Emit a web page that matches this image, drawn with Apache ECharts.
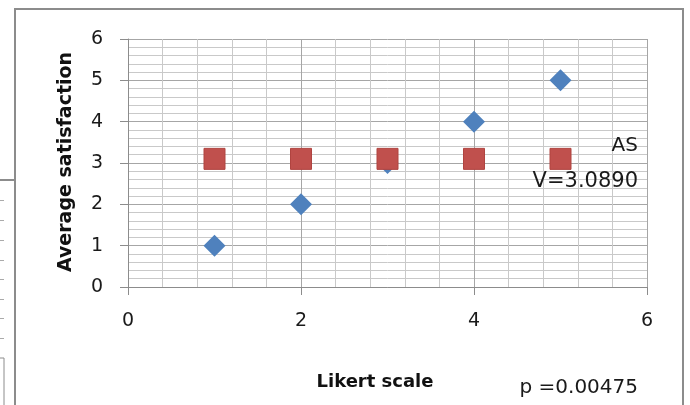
<!DOCTYPE html>
<html>
<head>
<meta charset="utf-8">
<script src="https://cdn.jsdelivr.net/npm/echarts@6/dist/echarts.min.js"></script>
<style>
html,body{margin:0;padding:0;background:#fff;}
#chart{width:690px;height:405px;}
</style>
</head>
<body>
<div id="chart"></div>
<script>
// Data
const likertX = [1, 2, 3, 4, 5];
const satisfactionY = [1, 2, 3, 4, 5];
const asvY = [3.1, 3.1, 3.1, 3.1, 3.1];
const xTicks = [0, 2, 4, 6];
const yTicks = [0, 1, 2, 3, 4, 5, 6];
const yTitle = 'Average satisfaction';
const xTitle = 'Likert scale';
const noteAS = 'AS';
const noteV = 'V=3.0890';
const noteP = 'p =0.00475';

const FONT = '"DejaVu Sans", sans-serif';
const chart = echarts.init(document.getElementById('chart'));

const blueData = likertX.map((x, i) => [x, satisfactionY[i]]);
const redData = likertX.map((x, i) => [x, asvY[i]]);

const decor = [
  {type:'rect', shape:{x:15, y:9, width:668, height:430}, style:{fill:null, stroke:'#8c8c8c', lineWidth:2}, z:-10},
  {type:'line', shape:{x1:0, y1:180, x2:15, y2:180}, style:{stroke:'#8c8c8c', lineWidth:2}, z:-10},
  {type:'line', shape:{x1:4, y1:358, x2:4, y2:405}, style:{stroke:'#8c8c8c', lineWidth:1}, z:-10},
  {type:'line', shape:{x1:0, y1:358, x2:4, y2:358}, style:{stroke:'#8c8c8c', lineWidth:1}, z:-10}
];
[200, 220, 240, 260, 279, 299, 318, 338].forEach(y => {
  decor.push({type:'line', shape:{x1:0, y1:y+0.5, x2:4, y2:y+0.5}, style:{stroke:'#aaaaaa', lineWidth:1}, z:-10});
});

chart.setOption({
  animation: false,
  backgroundColor: '#fff',
  grid: {left:128, right:43, top:39, bottom:118, containLabel:false},
  xAxis: {
    type:'value', min:0, max:6, interval:2,
    axisLine:{show:true, onZero:false, lineStyle:{color:'#8c8c8c', width:1}},
    axisTick:{show:true, inside:false, length:8, lineStyle:{color:'#8c8c8c'}},
    minorTick:{show:false, splitNumber:5},
    axisLabel:{fontFamily:FONT, fontSize:19, color:'#1a1a1a', margin:25,
      formatter: v => xTicks.includes(v) ? String(v) : ''},
    splitLine:{show:true, lineStyle:{color:'#a6a6a6', width:1}},
    minorSplitLine:{show:true, lineStyle:{color:'#c9c9c9', width:1}}
  },
  yAxis: {
    type:'value', min:0, max:6, interval:1,
    axisLine:{show:true, onZero:false, lineStyle:{color:'#8c8c8c', width:1}},
    axisTick:{show:true, inside:false, length:8, lineStyle:{color:'#8c8c8c'}},
    minorTick:{show:false, splitNumber:5},
    axisLabel:{fontFamily:FONT, fontSize:19, color:'#1a1a1a', margin:25,
      formatter: v => yTicks.includes(v) ? String(v) : ''},
    splitLine:{show:true, lineStyle:{color:'#a6a6a6', width:1}},
    minorSplitLine:{show:true, lineStyle:{color:'#c9c9c9', width:1}}
  },
  series: [
    {type:'scatter', data:blueData, symbol:'diamond', symbolSize:22,
     itemStyle:{color:'#4f81bd', opacity:1}, z:3},
    {type:'scatter', data:redData, symbol:'rect', symbolSize:21,
     itemStyle:{color:'#c0504d', borderColor:'#b04440', borderWidth:1, opacity:1}, z:4}
  ],
  graphic: decor.concat([
    {type:'text', x:66, y:162, rotation:Math.PI/2, z:100,
     style:{text:yTitle, font:'bold 19px ' + FONT, fill:'#111', align:'center', verticalAlign:'middle'}},
    {type:'text', x:375, y:382, z:100,
     style:{text:xTitle, font:'bold 18px ' + FONT, fill:'#111', align:'center', verticalAlign:'middle'}},
    {type:'text', x:638, y:146, z:100,
     style:{text:noteAS, font:'20px ' + FONT, fill:'#1a1a1a', align:'right', verticalAlign:'middle'}},
    {type:'text', x:638, y:182, z:100,
     style:{text:noteV, font:'21px ' + FONT, fill:'#1a1a1a', align:'right', verticalAlign:'middle'}},
    {type:'text', x:638, y:388, z:100,
     style:{text:noteP, font:'20px ' + FONT, fill:'#1a1a1a', align:'right', verticalAlign:'middle'}}
  ])
});
</script>
</body>
</html>
